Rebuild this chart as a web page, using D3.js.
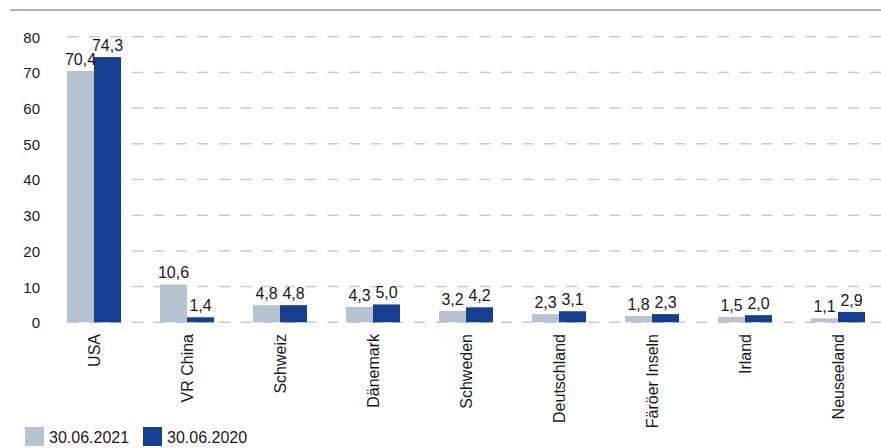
<!DOCTYPE html>
<html>
<head>
<meta charset="utf-8">
<script src="https://cdn.jsdelivr.net/npm/d3@7"></script>
<style>
  body { margin: 0; background: #fff; }
  text { font-family: "Liberation Sans", Arial, Helvetica, sans-serif; fill: #1a1a1a; }
</style>
</head>
<body>
<script>
const countries = ['USA', 'VR China', 'Schweiz', 'Dänemark', 'Schweden', 'Deutschland', 'Färöer Inseln', 'Irland', 'Neuseeland'];
const values2021 = [70.4, 10.6, 4.8, 4.3, 3.2, 2.3, 1.8, 1.5, 1.1];
const values2020 = [74.3, 1.4, 4.8, 5.0, 4.2, 3.1, 2.3, 2.0, 2.9];
const seriesNames = ['30.06.2021', '30.06.2020'];
const yTicks = [0, 10, 20, 30, 40, 50, 60, 70, 80];

const width = 881;
const height = 448;
const colors = ['#b8c3d1', '#143f93'];

const fmt = v => v.toFixed(1).replace('.', ',');

function main() {
  const svg = d3.select('body').append('svg').attr('width', width).attr('height', height);

  // top rule
  svg.append('line')
    .attr('x1', 10).attr('x2', width)
    .attr('y1', 10).attr('y2', 10)
    .attr('stroke', '#a9b4c2')
    .attr('stroke-width', 2);

  const x = d3.scaleBand()
    .domain(countries)
    .range([48, 884])
    .paddingInner(39 / 93)
    .paddingOuter(19 / 93);

  const xSub = d3.scaleBand()
    .domain(seriesNames)
    .range([0, x.bandwidth()]);

  const y = d3.scaleLinear().domain([0, 80]).range([322.3, 36.7]);

  // grid
  const yAxis = d3.axisLeft(y).tickValues(yTicks).tickSize(0).tickPadding(0).tickFormat(d3.format('d'));
  const gy = svg.append('g').attr('transform', 'translate(40,0)').call(yAxis);
  gy.select('.domain').remove();
  gy.selectAll('text')
    .attr('font-size', 15)
    .attr('dy', '0.36em')
    .style('font-family', '"Liberation Sans", Arial, sans-serif')
    .attr('fill', '#1a1a1a');

  svg.append('g')
    .selectAll('line')
    .data(yTicks)
    .enter()
    .append('line')
    .attr('x1', 67).attr('x2', width)
    .attr('y1', d => y(d)).attr('y2', d => y(d))
    .attr('stroke', '#c5cbd7')
    .attr('stroke-width', 1.5)
    .attr('stroke-dasharray', '11,10.7');

  const rows = countries.map((c, i) => ({
    country: c,
    vals: [
      { key: seriesNames[0], v: values2021[i] },
      { key: seriesNames[1], v: values2020[i] },
    ],
  }));

  const groups = svg.append('g')
    .selectAll('g')
    .data(rows)
    .enter()
    .append('g')
    .attr('transform', d => `translate(${x(d.country)},0)`);

  groups.selectAll('rect')
    .data(d => d.vals)
    .enter()
    .append('rect')
    .attr('x', d => xSub(d.key))
    .attr('width', xSub.bandwidth())
    .attr('y', d => y(d.v))
    .attr('height', d => y(0) - y(d.v))
    .attr('fill', (d, i) => colors[i]);

  groups.selectAll('text')
    .data(d => d.vals)
    .enter()
    .append('text')
    .attr('x', d => xSub(d.key) + xSub.bandwidth() / 2)
    .attr('y', d => y(d.v) - 6)
    .attr('text-anchor', 'middle')
    .attr('font-size', 16)
    .text(d => fmt(d.v));

  // x labels
  svg.append('g')
    .selectAll('text')
    .data(countries)
    .enter()
    .append('text')
    .attr('transform', d => `translate(${x(d) + x.bandwidth() / 2},334) rotate(-90)`)
    .attr('text-anchor', 'end')
    .attr('dy', '0.38em')
    .attr('font-size', 16)
    .text(d => d);

  // legend
  const legendX = [25, 143];
  const legend = svg.append('g')
    .selectAll('g')
    .data(seriesNames)
    .enter()
    .append('g')
    .attr('transform', (d, i) => `translate(${legendX[i]},427)`);

  legend.append('rect')
    .attr('width', 19).attr('height', 19)
    .attr('fill', (d, i) => colors[i]);

  legend.append('text')
    .attr('x', 24)
    .attr('y', 16)
    .attr('font-size', 16)
    .text(d => d);
}

main();
</script>
</body>
</html>
